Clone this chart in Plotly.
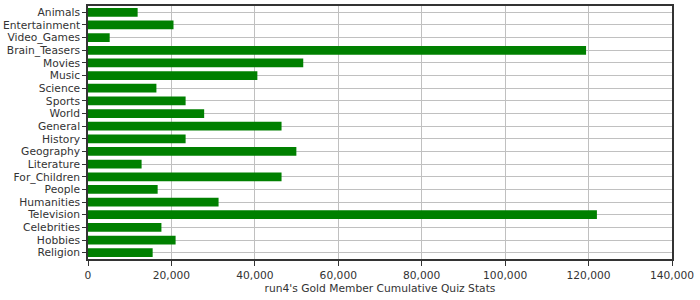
import plotly.graph_objects as go

categories = ["Animals", "Entertainment", "Video_Games", "Brain_Teasers", "Movies", "Music",
              "Science", "Sports", "World", "General", "History", "Geography", "Literature",
              "For_Children", "People", "Humanities", "Television", "Celebrities", "Hobbies", "Religion"]
values = [11900, 20500, 5200, 119400, 51600, 40600, 16400, 23400, 27850, 46400, 23400, 49950,
          12850, 46400, 16700, 31300, 122000, 17600, 21000, 15500]
x_ticks = [0, 20000, 40000, 60000, 80000, 100000, 120000, 140000]
title = "run4's Gold Member Cumulative Quiz Stats"

fig = go.Figure(go.Bar(
    x=values, y=categories, orientation="h",
    marker=dict(color="#008000", line=dict(width=0)),
))

fnt = dict(family="DejaVu Sans", size=10.7, color="#333333")
fig.update_layout(
    width=700, height=300,
    margin=dict(l=88, r=28, t=6, b=41),
    paper_bgcolor="white", plot_bgcolor="white",
    bargap=0.31,
    showlegend=False,
    font=fnt,
)
fig.update_xaxes(
    range=[0, 140000], tickvals=x_ticks, tickformat=",d",
    showgrid=True, gridcolor="#c0c0c0", gridwidth=1,
    showline=True, linecolor="#333333", linewidth=1.5, mirror=True,
    ticks="outside", ticklen=5, tickcolor="#333333",
    tickfont=fnt, automargin=False,
    zeroline=False,
    title=dict(text=title, font=fnt, standoff=4),
)
fig.update_yaxes(
    categoryorder="array", categoryarray=categories, autorange="reversed",
    tickmode="array", tickvals=categories, ticktext=categories,
    showgrid=True, gridcolor="#c0c0c0", gridwidth=1,
    showline=True, linecolor="#333333", linewidth=1.5, mirror=True,
    ticks="outside", ticklen=4, tickcolor="#333333",
    tickfont=fnt, automargin=False,
)

fig.write_html("out.html")
